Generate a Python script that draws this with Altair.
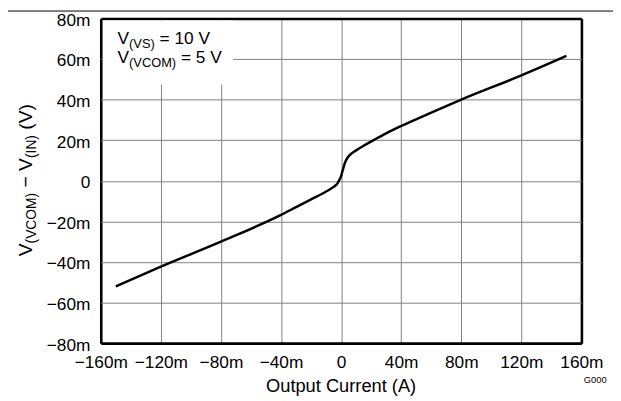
import altair as alt
import pandas as pd

# ---- data (mA, mV) ----
current_mA = [-150, -120, -80, -40, -30, -20, -10, -5, -2.5, -1, 0, 1, 2, 3, 4.5, 7, 10, 15, 22, 30, 40, 60, 80, 120, 150]
vdiff_mV = [-52, -42.3, -30, -16.8, -13, -9.2, -5.3, -3.0, -1.4, 0.6, 2.3, 5.0, 7.6, 9.6, 11.6, 13.5, 15.0, 17.3, 20.2, 23.4, 27, 33.6, 40, 51.9, 61.5]
x_ticks = [-160, -120, -80, -40, 0, 40, 80, 120, 160]
y_ticks = [-80, -60, -40, -20, 0, 20, 40, 60, 80]
note_box_x = [-158.5, -72]
note_box_y = [47.4, 79]

W, H = 487, 329
FONT = "Liberation Sans"
MAIN = 17.5
SUB = 13
YT_MAIN = 19.5
YT_SUB = 14

ARIAL = {"V": 667, "(": 333, ")": 333, "S": 667, "C": 722, "O": 778, "M": 833,
         "I": 278, "N": 722, " ": 278, "=": 584, "1": 556, "0": 556, "5": 556,
         "−": 584}


def tw(s, size):
    return sum(ARIAL[c] for c in s) / 1000.0 * size


df = pd.DataFrame({"I": current_mA, "V": vdiff_mV})

sx = alt.Scale(domain=[x_ticks[0], x_ticks[-1]], nice=False, zero=False)
sy = alt.Scale(domain=[y_ticks[0], y_ticks[-1]], nice=False, zero=False)
lbl = "datum.value == 0 ? '0' : (datum.value < 0 ? '−' : '') + abs(datum.value) + 'm'"

# the edge grid lines form the thick black frame
edge_x = f"datum.value == {x_ticks[0]} || datum.value == {x_ticks[-1]}"
edge_y = f"datum.value == {y_ticks[0]} || datum.value == {y_ticks[-1]}"
ax_x = alt.Axis(values=x_ticks, labelExpr=lbl, title=None, labelPadding=10.5,
                labelBaseline="top", labelFlush=False, labelOverlap=False,
                gridColor={"condition": {"test": edge_x, "value": "black"}, "value": "#808080"},
                gridWidth={"condition": {"test": edge_x, "value": 2.6}, "value": 1})
ax_y = alt.Axis(values=y_ticks, labelExpr=lbl, title=None, labelPadding=11,
                labelOffset=2, labelFlush=False, labelOverlap=False,
                gridColor={"condition": {"test": edge_y, "value": "black"}, "value": "#808080"},
                gridWidth={"condition": {"test": edge_y, "value": 2.6}, "value": 1})

line = alt.Chart(df).mark_line(color="black", strokeWidth=2.5, interpolate="monotone").encode(
    x=alt.X("I:Q", scale=sx, axis=ax_x),
    y=alt.Y("V:Q", scale=sy, axis=ax_y),
    order=alt.Order("I:Q"))

box = alt.Chart(pd.DataFrame({"bx": [note_box_x[0]], "bx2": [note_box_x[1]],
                              "by": [note_box_y[0]], "by2": [note_box_y[1]]})).mark_rect(
    fill="white").encode(
    x=alt.X("bx:Q", scale=sx, axis=ax_x), x2="bx2:Q",
    y=alt.Y("by:Q", scale=sy, axis=ax_y), y2="by2:Q")

one = pd.DataFrame({"k": [0]})
texts = []


def txt(t, px, py, size, angle=0, align="left", baseline="alphabetic"):
    kw = dict(text=t, font=FONT, fontSize=size, color="black", align=align, baseline=baseline)
    if angle:
        kw["angle"] = angle
    texts.append(alt.Chart(one).mark_text(**kw).encode(x=alt.value(px), y=alt.value(py)))


def run(t, size):
    """leading spaces are collapsed in SVG: return (offset, stripped text)"""
    s = t.lstrip(" ")
    return tw(t[: len(t) - len(s)], size), s


# annotation lines
def note(parts, xs, base):
    x = xs
    for t, sub in parts:
        size = SUB if sub else MAIN
        off, s = run(t, size)
        txt(s, x + off, base + (4 if sub else 0), size)
        x += tw(t, size)


note([("V", False), ("(VS)", True), (" = 10 V", False)], 17, 26)
note([("V", False), ("(VCOM)", True), (" = 5 V", False)], 17, 45)

# rotated y title
yy = 241
for t, sub in [("V", False), ("(VCOM)", True), (" − V", False), ("(IN)", True), (" (V)", False)]:
    size = YT_SUB if sub else YT_MAIN
    off, s = run(t, size)
    txt(s, -70 + (4 if sub else 0), yy - off, size, angle=270)
    yy -= tw(t, size)

# x title
txt("Output Current (A)", W / 2, 378, 18.5, align="center")
# figure code
txt("G000", 501, 369, 9.5, align="center")

top_rule = alt.Chart(one).mark_rule(color="black", strokeWidth=1).encode(
    x=alt.value(-94), x2=alt.value(W + 32), y=alt.value(-7.5))

chart = alt.layer(line, box, top_rule, *texts).properties(
    width=W, height=H,
    autosize=alt.AutoSizeParams(type="none"),
    padding={"left": 94, "top": 8, "right": 32, "bottom": 54},
).configure_view(stroke=None).configure_axis(
    grid=True, domain=False, ticks=False,
    labelFont=FONT, labelFontSize=MAIN, labelColor="black",
)

chart.save("out.html", embed_options={"renderer": "svg", "actions": False})
